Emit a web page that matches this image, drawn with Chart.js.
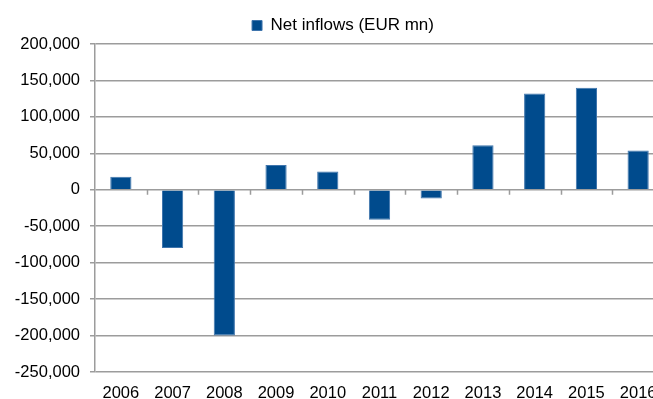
<!DOCTYPE html>
<html>
<head>
<meta charset="utf-8">
<script src="https://cdn.jsdelivr.net/npm/chart.js@4"></script>
<style>
  html, body { margin: 0; padding: 0; background: #ffffff; overflow: hidden; }
  #wrap { width: 716px; height: 399px; }
</style>
</head>
<body>
<div id="wrap"><canvas id="inflows-chart" width="716" height="399"></canvas></div>
<script>
// years on the category axis
const years = ['2006', '2007', '2008', '2009', '2010', '2011', '2012', '2013', '2014', '2015', '2016'];
// net inflows, EUR mn
const netInflows = [18000, -80000, -200000, 34000, 25000, -41000, -12000, 61000, 132000, 140000, 54000];
const seriesName = 'Net inflows (EUR mn)';
// value axis range
const yMin = -250000;
const yMax = 200000;
const yStep = 50000;

const fontFamily = '"Liberation Sans", Arial, sans-serif';
const barColor = '#004b8d';
const gridColor = '#9c9c9c';

// small tick marks under the zero line, between the categories
const zeroLineTicks = {
    id: 'zeroLineTicks',
    afterDraw(chart) {
        const ctx = chart.ctx;
        const x = chart.scales.x;
        const y0 = chart.scales.y.getPixelForValue(0);
        ctx.save();
        ctx.strokeStyle = gridColor;
        ctx.lineWidth = 1.5;
        ctx.beginPath();
        for (let i = 0; i < years.length - 1; i++) {
            const px = Math.round((x.getPixelForValue(i) + x.getPixelForValue(i + 1)) / 2) + 0.5;
            ctx.moveTo(px, y0);
            ctx.lineTo(px, y0 + 5);
        }
        ctx.stroke();
        ctx.restore();
    }
};

// fixed legend height, and nudge it right so it sits where it does in the picture
const legendPlacement = {
    id: 'legendPlacement',
    beforeInit(chart) {
        const origFit = chart.legend.fit;
        chart.legend.fit = function () {
            origFit.bind(chart.legend)();
            this.height = 44;
        };
    },
    afterLayout(chart) {
        chart.legend.left += 11;
        chart.legend.right += 11;
    }
};

new Chart(document.getElementById('inflows-chart').getContext('2d'), {
    type: 'bar',
    data: {
        labels: years,
        datasets: [{
            label: seriesName,
            data: netInflows,
            backgroundColor: barColor,
            borderColor: '#3f75ad',
            borderWidth: 1,
            categoryPercentage: 1,
            barPercentage: 0.41
        }]
    },
    options: {
        responsive: false,
        animation: false,
        layout: { padding: { left: 0, right: 52, top: 0, bottom: 0 } },
        plugins: {
            legend: {
                display: true,
                position: 'top',
                labels: {
                    boxWidth: 10,
                    boxHeight: 10,
                    padding: 17,
                    color: '#000000',
                    font: { family: fontFamily, size: 17 }
                }
            },
            tooltip: { enabled: false }
        },
        scales: {
            x: {
                grid: { display: false, drawTicks: false },
                border: { display: false },
                ticks: {
                    color: '#000000',
                    font: { family: fontFamily, size: 16.5 },
                    padding: 12,
                    maxRotation: 0,
                    autoSkip: false
                },
                afterFit(scale) { scale.height = 27; }
            },
            y: {
                min: yMin,
                max: yMax,
                ticks: {
                    stepSize: yStep,
                    color: '#000000',
                    font: { family: fontFamily, size: 16.5 },
                    padding: 10,
                    callback: v => v.toLocaleString('en-US')
                },
                grid: {
                    color: gridColor,
                    lineWidth: 1.5,
                    tickLength: 5,
                    tickColor: gridColor
                },
                border: { display: true, color: gridColor, width: 1.5 },
                afterFit(scale) { scale.width = 95; }
            }
        }
    },
    plugins: [legendPlacement, zeroLineTicks]
});
</script>
</body>
</html>
